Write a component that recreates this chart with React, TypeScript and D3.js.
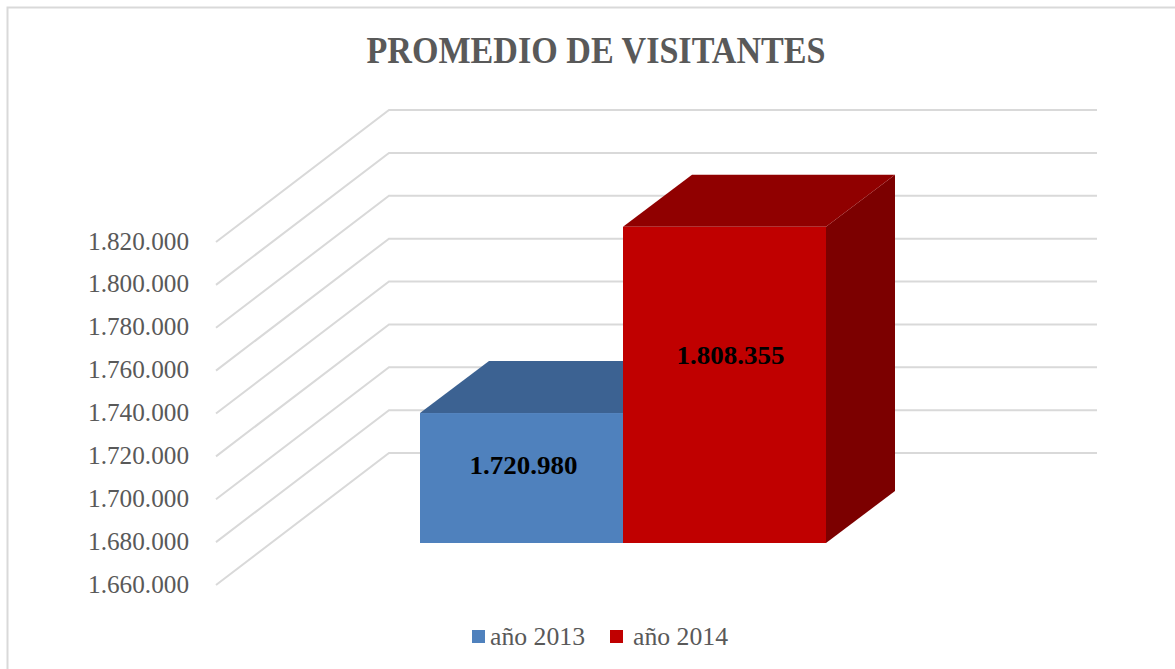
import React from "react";
import * as d3 from "d3";

const ticks = [1660000, 1680000, 1700000, 1720000, 1740000, 1760000, 1780000, 1800000, 1820000];
const tickLabels = ["1.660.000", "1.680.000", "1.700.000", "1.720.000", "1.740.000", "1.760.000", "1.780.000", "1.800.000", "1.820.000"];
const series = ["año 2013", "año 2014"];
const values = [1720980, 1808355];
const valueLabels = ["1.720.980", "1.808.355"];
const colors = ["#4f81bd", "#c00000"];
const topColors = ["#3c6292", "#900000"];
const sideColors = ["#2f4d72", "#7c0000"];

const FONT = "'Liberation Serif', serif";
const dx = 69, dy = 52;

export default function App() {
  const yBack = d3.scaleLinear().domain([1660000, 1820000]).range([453, 110]);
  const yBar = d3.scaleLinear().domain([1660000, 1820000]).range([543, 202]);
  const x = d3.scaleBand().domain(series).range([420, 826]);
  const w = x.bandwidth();
  const poly = (pts: [number, number][]) => d3.line()(pts) + "Z";
  return (
    <svg width={1175} height={669} style={{ position: "absolute", left: 0, top: 0, display: "block", background: "#fff" }} fontFamily={FONT}>
      <path d="M7.5,669V7.5H1175" fill="none" stroke="#d9d9d9" strokeWidth={2} />
      <text x={596} y={63} textAnchor="middle" fontSize={38} fontWeight="bold" fill="#595959" textLength={459} lengthAdjust="spacingAndGlyphs">PROMEDIO DE VISITANTES</text>
      {ticks.map((t, i) => (
        <g key={t}>
          <path d={`M216,${yBack(t) + 132}L389,${yBack(t)}H1097`} fill="none" stroke="#d9d9d9" strokeWidth={2} />
          <text x={189} y={yBack(t) + 132 + 7.5} textAnchor="end" fontSize={25} fill="#595959" textLength={101} lengthAdjust="spacingAndGlyphs">{tickLabels[i]}</text>
        </g>
      ))}
      {series.map((s, i) => {
        const x0 = x(s)!, x1 = x0 + w, y0 = yBar(1660000), y1 = yBar(values[i]);
        return (
          <g key={s}>
            <path d={poly([[x1, y1], [x1 + dx, y1 - dy], [x1 + dx, y0 - dy], [x1, y0]])} fill={sideColors[i]} />
            <path d={poly([[x0, y1], [x0 + dx, y1 - dy], [x1 + dx, y1 - dy], [x1, y1]])} fill={topColors[i]} />
            <rect x={x0} y={y1} width={w} height={y0 - y1} fill={colors[i]} />
          </g>
        );
      })}
      {series.map((s, i) => (
        <text key={s} x={x(s)! + w / 2 + [2, 6][i]} y={i === 0 ? 474 : 364} textAnchor="middle" fontSize={26} fontWeight="bold" fill="#000" textLength={108} lengthAdjust="spacingAndGlyphs">{valueLabels[i]}</text>
      ))}
      {series.map((s, i) => (
        <g key={s}>
          <rect x={[472, 610][i]} y={630} width={13} height={13} fill={colors[i]} />
          <text x={[490, 633][i]} y={645} fontSize={25} fill="#595959" textLength={95} lengthAdjust="spacingAndGlyphs">{s}</text>
        </g>
      ))}
    </svg>
  );
}
